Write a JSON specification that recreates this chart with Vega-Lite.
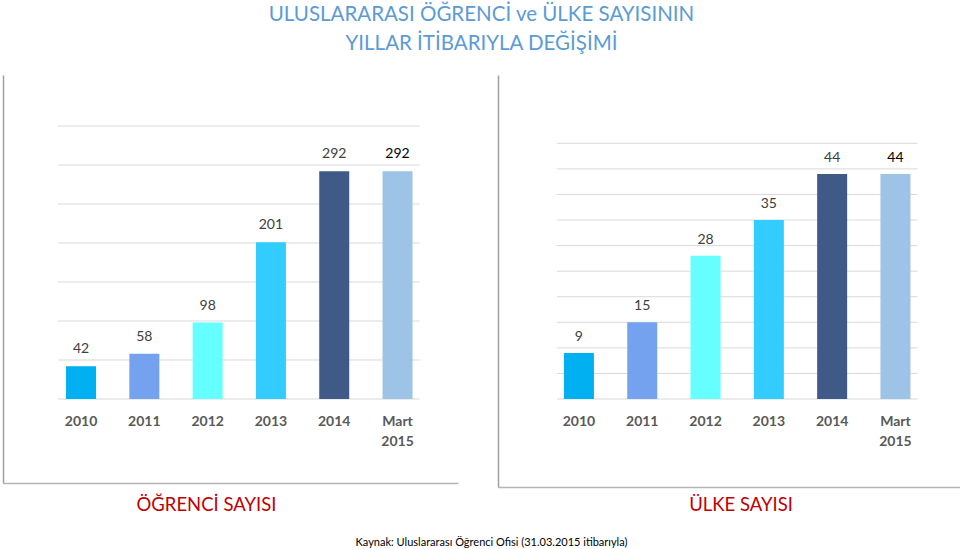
{
  "$schema": "https://vega.github.io/schema/vega-lite/v6.json",
  "background": "white",
  "padding": {"left": 3, "top": 4, "right": 0, "bottom": 0},
  "title": {
    "text": ["ULUSLARARASI ÖĞRENCİ ve ÜLKE SAYISININ", "YILLAR İTİBARIYLA DEĞİŞİMİ"],
    "color": "#5B9BD5", "font": "Lato", "fontSize": 20.5, "fontWeight": "normal",
    "lineHeight": 29, "anchor": "middle", "offset": 21
  },
  "config": {"view": {"stroke": null}},
  "spacing": 21,
  "vconcat": [
    {
      "spacing": 40,
      "hconcat": [
        {
          "width": 455,
          "height": 408,
          "title": {"text": "ÖĞRENCİ SAYISI", "orient": "bottom", "anchor": "middle", "dx": -24, "offset": 13,
            "color": "#C00000", "font": "Lato", "fontSize": 18.5, "fontWeight": "normal"},
          "data": {"values": [
            {"year": "2010", "value": 42},
            {"year": "2011", "value": 58},
            {"year": "2012", "value": 98},
            {"year": "2013", "value": 201},
            {"year": "2014", "value": 292},
            {"year": "Mart 2015", "value": 292}
          ]},
          "layer": [
            {
              "data": {"values": [{"v": 0}, {"v": 50}, {"v": 100}, {"v": 150}, {"v": 200}, {"v": 250}, {"v": 300}, {"v": 350}]},
              "mark": {"type": "rule", "color": "#D9D9D9", "strokeWidth": 1, "xOffset": -23, "x2Offset": 22},
              "encoding": {
                "x": {"datum": "2010", "type": "nominal",
                  "scale": {"type": "band", "domain": ["2010", "2011", "2012", "2013", "2014", "Mart 2015"], "paddingInner": 0.526, "paddingOuter": 0.857, "align": 0.581},
                  "axis": {"title": null, "labels": false, "ticks": false, "grid": false, "domain": true, "domainColor": "#B5B5B5", "domainWidth": 1.5}},
                "x2": {"datum": "Mart 2015"},
                "y": {"field": "v", "type": "quantitative",
                  "scale": {"domain": [-107.7, 415.4], "nice": false, "zero": false},
                  "axis": {"title": null, "labels": false, "ticks": false, "grid": false, "domain": true, "domainColor": "#A0A0A0", "domainWidth": 1.5}}
              }
            },
            {
              "mark": {"type": "bar"},
              "encoding": {
                "x": {"field": "year", "type": "nominal"},
                "y": {"field": "value", "type": "quantitative"},
                "y2": {"datum": 0},
                "color": {"field": "year", "type": "nominal", "legend": null,
                  "scale": {"domain": ["2010", "2011", "2012", "2013", "2014", "Mart 2015"], "range": ["#00B0F0", "#74A2EF", "#66FFFF", "#33CCFF", "#3F5A87", "#9DC3E6"]}}
              }
            },
            {
              "mark": {"type": "text", "font": "Lato", "fontSize": 14, "baseline": "middle", "dy": -17},
              "encoding": {
                "x": {"field": "year", "type": "nominal"},
                "y": {"field": "value", "type": "quantitative"},
                "text": {"field": "value", "type": "quantitative"},
                "color": {"condition": {"test": "datum.year === 'Mart 2015'", "value": "#000000"}, "value": "#404040"}
              }
            },
            {
              "mark": {"type": "text", "font": "Lato", "fontSize": 14, "fontWeight": "bold", "color": "#595959", "baseline": "top", "lineBreak": " ", "lineHeight": 20},
              "encoding": {
                "x": {"field": "year", "type": "nominal"},
                "y": {"datum": -20.3, "type": "quantitative"},
                "text": {"field": "year", "type": "nominal"}
              }
            }
          ]
        },
        {
          "width": 462,
          "height": 412,
          "title": {"text": "ÜLKE SAYISI", "orient": "bottom", "anchor": "middle", "dx": 12, "offset": 9,
            "color": "#C00000", "font": "Lato", "fontSize": 18.5, "fontWeight": "normal"},
          "data": {"values": [
            {"year": "2010", "value": 9},
            {"year": "2011", "value": 15},
            {"year": "2012", "value": 28},
            {"year": "2013", "value": 35},
            {"year": "2014", "value": 44},
            {"year": "Mart 2015", "value": 44}
          ]},
          "layer": [
            {
              "data": {"values": [{"v": 0}, {"v": 5}, {"v": 10}, {"v": 15}, {"v": 20}, {"v": 25}, {"v": 30}, {"v": 35}, {"v": 40}, {"v": 45}, {"v": 50}]},
              "mark": {"type": "rule", "color": "#D9D9D9", "strokeWidth": 1, "xOffset": -22, "x2Offset": 22},
              "encoding": {
                "x": {"datum": "2010", "type": "nominal",
                  "scale": {"type": "band", "domain": ["2010", "2011", "2012", "2013", "2014", "Mart 2015"], "paddingInner": 0.526, "paddingOuter": 0.912, "align": 0.571},
                  "axis": {"title": null, "labels": false, "ticks": false, "grid": false, "domain": true, "domainColor": "#B5B5B5", "domainWidth": 1.5}},
                "x2": {"datum": "Mart 2015"},
                "y": {"field": "v", "type": "quantitative",
                  "scale": {"domain": [-17.21, 63.36], "nice": false, "zero": false},
                  "axis": {"title": null, "labels": false, "ticks": false, "grid": false, "domain": true, "domainColor": "#A0A0A0", "domainWidth": 1.5}}
              }
            },
            {
              "mark": {"type": "bar"},
              "encoding": {
                "x": {"field": "year", "type": "nominal"},
                "y": {"field": "value", "type": "quantitative"},
                "y2": {"datum": 0},
                "color": {"field": "year", "type": "nominal", "legend": null,
                  "scale": {"domain": ["2010", "2011", "2012", "2013", "2014", "Mart 2015"], "range": ["#00B0F0", "#74A2EF", "#66FFFF", "#33CCFF", "#3F5A87", "#9DC3E6"]}}
              }
            },
            {
              "mark": {"type": "text", "font": "Lato", "fontSize": 14, "baseline": "middle", "dy": -16},
              "encoding": {
                "x": {"field": "year", "type": "nominal"},
                "y": {"field": "value", "type": "quantitative"},
                "text": {"field": "value", "type": "quantitative"},
                "color": {"condition": {"test": "datum.year === 'Mart 2015'", "value": "#000000"}, "value": "#404040"}
              }
            },
            {
              "mark": {"type": "text", "font": "Lato", "fontSize": 14, "fontWeight": "bold", "color": "#595959", "baseline": "top", "lineBreak": " ", "lineHeight": 20},
              "encoding": {
                "x": {"field": "year", "type": "nominal"},
                "y": {"datum": -3.09, "type": "quantitative"},
                "text": {"field": "year", "type": "nominal"}
              }
            }
          ]
        }
      ]
    },
    {
      "width": 957,
      "height": 14,
      "data": {"values": [{"t": "Kaynak: Uluslararası Öğrenci Ofisi (31.03.2015 itibarıyla)"}]},
      "mark": {"type": "text", "font": "Lato", "fontSize": 11, "color": "#000000", "dx": 10, "baseline": "middle"},
      "encoding": {"text": {"field": "t", "type": "nominal"}}
    }
  ]
}
